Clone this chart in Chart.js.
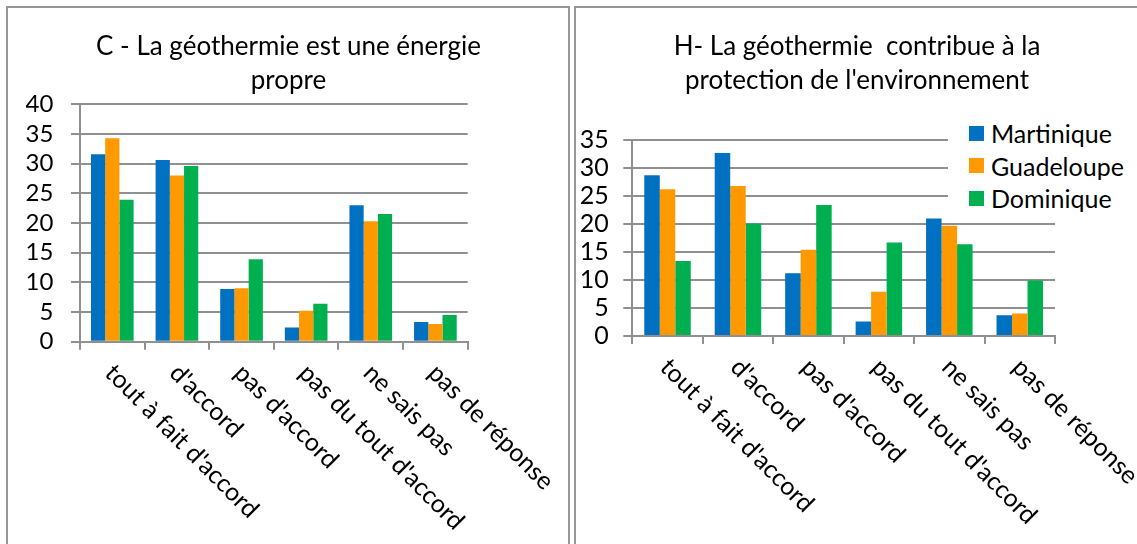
<!DOCTYPE html>
<html>
<head>
<meta charset="utf-8">
<script src="https://cdn.jsdelivr.net/npm/chart.js@4.4.0/dist/chart.umd.min.js"></script>
<style>
html,body{margin:0;padding:0;background:#fff;width:1137px;height:544px;overflow:hidden;font-family:Lato,sans-serif;}
canvas{position:absolute;}
.panel{position:absolute;border:2px solid #979797;border-bottom:none;pointer-events:none;}
#p1{left:6px;top:6px;width:560px;height:560px;}
#p2{left:574px;top:6px;width:700px;height:560px;}
#legend{position:absolute;left:948px;top:117px;width:189px;background:#fff;}
.row{display:flex;align-items:center;height:32.5px;}
.sw{width:15px;height:15px;margin-left:21px;margin-right:7px;}
.lt{font-family:Lato,sans-serif;font-size:25px;color:#000;white-space:nowrap;}
</style>
</head>
<body>
<canvas id="c1" width="561" height="536" style="left:8px;top:8px;width:561px;height:536px;"></canvas>
<canvas id="c2" width="560" height="536" style="left:577px;top:8px;width:560px;height:536px;"></canvas>
<div id="p1" class="panel"></div>
<div id="p2" class="panel"></div>
<div id="legend"></div>
<script>
// ---- data ----
const categories = ["tout à fait d'accord", "d'accord", "pas d'accord", "pas du tout d'accord", "ne sais pas", "pas de réponse"];
const seriesNames = ["Martinique", "Guadeloupe", "Dominique"];
const seriesColors = ["#0070C0", "#FF9900", "#00B050"];

const titleC = ["C - La géothermie est une énergie", "propre"];
const martiniqueC = [31.6, 30.6, 8.9, 2.4, 23.0, 3.3];
const guadeloupeC = [34.3, 28.0, 9.0, 5.2, 20.3, 3.0];
const dominiqueC  = [23.9, 29.6, 13.9, 6.4, 21.5, 4.5];
const yMaxC = 40;

const titleH = ["H- La géothermie  contribue à la", "protection de l'environnement"];
const martiniqueH = [28.7, 32.7, 11.2, 2.6, 21.0, 3.7];
const guadeloupeH = [26.2, 26.8, 15.4, 7.9, 19.7, 4.0];
const dominiqueH  = [13.4, 20.1, 23.4, 16.7, 16.4, 9.9];
const yMaxH = 35;
const yStep = 5;

// ---- rendering ----
const GRID = '#909090';
const FONT = 'Lato, sans-serif';

const rotatedLabels = {
  id: 'rotatedLabels',
  afterDraw(chart, args, opts) {
    const xs = chart.scales.x;
    const ctx = chart.ctx;
    ctx.save();
    ctx.fillStyle = '#000';
    ctx.font = opts.size + 'px ' + FONT;
    ctx.textAlign = 'left';
    ctx.textBaseline = 'middle';
    chart.data.labels.forEach((lab, i) => {
      const x = xs.getPixelForTick(i) + opts.dx;
      const y = xs.top + opts.dy;
      ctx.save();
      ctx.translate(x, y);
      ctx.rotate(Math.PI / 4);
      ctx.fillText(lab, 0, 0);
      ctx.restore();
    });
    ctx.restore();
  }
};

function makeChart(id, title, m, g, d, yMax, geo) {
  const data = [m, g, d];
  return new Chart(document.getElementById(id), {
    type: 'bar',
    data: {
      labels: categories,
      datasets: seriesNames.map((n, i) => ({
        label: n,
        data: data[i],
        backgroundColor: seriesColors[i],
        borderWidth: 0,
        categoryPercentage: 0.66,
        barPercentage: 1.0
      }))
    },
    plugins: [rotatedLabels],
    options: {
      responsive: false,
      animation: false,
      layout: { padding: 0 },
      plugins: {
        legend: { display: false },
        tooltip: { enabled: false },
        title: {
          display: true,
          text: title,
          color: '#000',
          font: { family: FONT, size: geo.titleSize, weight: 'normal', lineHeight: 34 / geo.titleSize },
          padding: { top: 22, bottom: geo.titleBottom }
        },
        rotatedLabels: { size: geo.labelSize, dx: geo.ldx, dy: geo.ldy }
      },
      scales: {
        x: {
          grid: { display: true, drawOnChartArea: false, drawTicks: true, tickLength: 8, color: GRID, lineWidth: 2 },
          border: { display: true, color: GRID, width: 2 },
          ticks: { display: false },
          afterFit: s => { s.height = geo.xHeight; }
        },
        y: {
          min: 0, max: yMax,
          ticks: { stepSize: yStep, autoSkip: false, color: '#000', padding: geo.tickPad, font: { family: FONT, size: geo.tickSize } },
          grid: { color: GRID, lineWidth: 2, tickLength: 9 },
          border: { display: true, color: GRID, width: 2 },
          afterFit: s => { s.width = geo.yWidth; }
        },
        yR: {
          type: 'linear', position: 'right', display: true,
          grid: { display: false }, border: { display: false }, ticks: { display: false },
          afterFit: s => { s.width = geo.rWidth; }
        }
      }
    }
  });
}

makeChart('c1', titleC, martiniqueC, guadeloupeC, dominiqueC, yMaxC,
  { titleSize: 26, titleBottom: 6.3, xHeight: 202.3, yWidth: 72, rWidth: 101.3, tickPad: 17.7, tickSize: 24, labelSize: 25, ldx: -3, ldy: 27 });
makeChart('c2', titleH, martiniqueH, guadeloupeH, dominiqueH, yMaxH,
  { titleSize: 26, titleBottom: 42, xHeight: 208, yWidth: 55.3, rWidth: 82, tickPad: 14.6, tickSize: 25, labelSize: 25, ldx: -3, ldy: 27 });

// legend (HTML)
const leg = document.getElementById('legend');
seriesNames.forEach((n, i) => {
  const r = document.createElement('div'); r.className = 'row';
  const s = document.createElement('div'); s.className = 'sw'; s.style.background = seriesColors[i];
  const t = document.createElement('span'); t.className = 'lt'; t.textContent = n;
  r.appendChild(s); r.appendChild(t); leg.appendChild(r);
});
</script>
</body>
</html>
